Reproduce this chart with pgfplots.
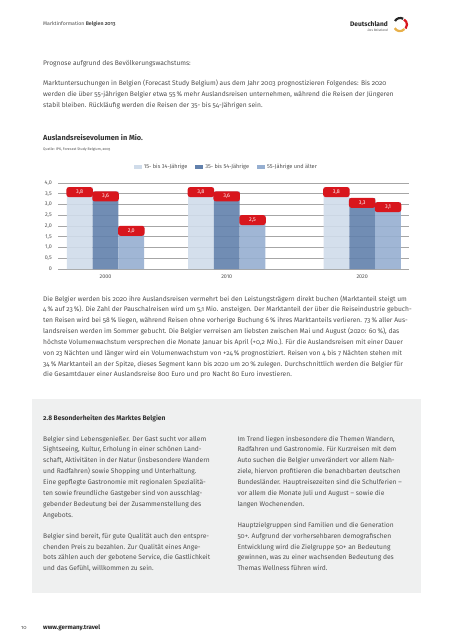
\documentclass[border=0pt]{standalone}
\usepackage{pgfplots}
\pgfplotsset{compat=1.18}
\usepackage{fontspec}
\setmainfont{Fira Sans}[Numbers=OldStyle]
\newfontfamily\lin{Fira Sans}[Numbers=Lining]
\definecolor{txt}{HTML}{505050}
\definecolor{boxgray}{HTML}{EFF0F0}
\definecolor{barA}{HTML}{D0DCEA}
\definecolor{barB}{HTML}{6281AC}
\definecolor{barC}{HTML}{96AFD1}
\definecolor{labred}{HTML}{D8161D}
\definecolor{gridc}{HTML}{A6A6A6}
\definecolor{dgold}{HTML}{E8B04A}
\newcommand{\bodyfont}{\fontsize{6.7}{9}\selectfont}
\newcommand{\tl}[3][43]{\node[anchor=base west, inner sep=0pt, text=txt, font=\bodyfont] at (#1,-#2) {#3};}
\begin{document}
\begin{tikzpicture}[x=1bp,y=1bp]
\path[fill=white,use as bounding box] (0,0) rectangle (453,-640);
% header
\node[anchor=base west, inner sep=0pt, text=txt, font=\fontsize{5.2}{6}\selectfont] at (43,-26) {Marktinformation \textbf{Belgien 2013}};
\node[anchor=base east, inner sep=0pt, text=black!85, font=\fontsize{6.6}{7}\selectfont\bfseries] at (388,-27) {Deutschland};
\node[anchor=base east, inner sep=0pt, text=black!70, font=\fontsize{3.2}{4}\selectfont\itshape] at (388,-32) {Das Reiseland};
\draw[line width=2.2bp, black!85] (395,-21) arc[start angle=150,end angle=60,radius=6];
\draw[line width=2.2bp, labred] (404,-19.5) arc[start angle=60,end angle=-40,radius=6];
\draw[line width=2.2bp, dgold] (404.5,-29) arc[start angle=-40,end angle=-150,radius=6];
% intro text
\tl{65.3}{Prognose aufgrund des Bevölkerungswachstums:}
\tl{85.5}{Marktuntersuchungen in Belgien (Forecast Study Belgium) aus dem Jahr 2003 prognostizieren Folgendes: Bis 2020}
\tl{96.5}{werden die über 55-jährigen Belgier etwa 55\,\% mehr Auslandsreisen unternehmen, während die Reisen der Jüngeren}
\tl{107.5}{stabil bleiben. Rückläufig werden die Reisen der 35- bis 54-Jährigen sein.}
% chart title
\node[anchor=base west, inner sep=0pt, text=black!80, font=\fontsize{7.4}{9}\selectfont\bfseries] at (43,-141) {Auslandsreisevolumen in Mio.};
\node[anchor=base west, inner sep=0pt, text=txt, font=\fontsize{3.6}{4}\selectfont] at (43,-151) {Quelle: IPK, Forecast Study Belgium, 2003};
% chart
\begin{axis}[
  at={(58.3bp,-269bp)}, anchor=south west,
  scale only axis, width=351bp, height=86bp,
  xmin=0, xmax=351, ymin=0, ymax=4,
  ybar, bar width=25.8, bar shift=0pt,
  axis line style={draw=none},
  major tick length=0pt,
  ymajorgrids, grid style={gridc, line width=0.9bp},
  ytick={0,0.5,1,1.5,2,2.5,3,3.5,4},
  yticklabels={0,{0,5},{1,0},{1,5},{2,0},{2,5},{3,0},{3,5},{4,0}},
  xtick={47.2,168.4,303.9},
  xticklabels={2000,2010,2020},
  tick label style={text=txt, font=\lin\fontsize{5.4}{6}\selectfont},
  yticklabel style={xshift=-3bp},
  xticklabel style={yshift=-2bp},
  /pgf/number format/assume math mode=true,
  clip=false,
  nodes near coords={\pgfmathprintnumber[fixed,fixed zerofill,precision=1,use comma,assume math mode=true]{\pgfplotspointmeta}},
  every node near coord/.append style={fill=labred, text=white, fill opacity=1, text opacity=1,
     rounded corners=2.5bp, minimum width=26.5bp, minimum height=10bp, inner sep=0pt,
     yshift=-10bp, font=\lin\fontsize{5.4}{6}\selectfont},
  legend columns=3,
  legend style={draw=none, fill=none, at={(0.479,1.183)}, anchor=center,
     font=\lin\fontsize{5.6}{6}\selectfont, text=txt,
     /tikz/every even column/.append style={column sep=6bp}},
  legend image code/.code={\fill[#1, fill opacity=1] (0bp,-2bp) rectangle (8bp,2.2bp);},
]
\addplot[draw=none, fill=barA, fill opacity=0.9, bar shift=0pt] coordinates {(21.4,3.8) (142.6,3.8) (278.1,3.8)};
\addplot[draw=none, fill=barB, fill opacity=0.9, bar shift=0pt] coordinates {(47.2,3.6) (168.4,3.6) (303.9,3.3)};
\addplot[draw=none, fill=barC, fill opacity=0.9, bar shift=0pt] coordinates {(73.0,2.0) (194.2,2.5) (329.7,3.1)};
\legend{15- bis 34-Jährige, 35- bis 54-Jährige, 55-Jährige und älter}
\end{axis}
% paragraph after chart
\tl{301.2}{Die Belgier werden bis 2020 ihre Auslandsreisen vermehrt bei den Leistungsträgern direkt buchen (Marktanteil steigt um}
\tl{311.9}{4\,\% auf 23\,\%). Die Zahl der Pauschalreisen wird um 5,1 Mio. ansteigen. Der Marktanteil der über die Reiseindustrie gebuch-}
\tl{322.9}{ten Reisen wird bei 58\,\% liegen, während Reisen ohne vorherige Buchung 6\,\% ihres Marktanteils verlieren. 73\,\% aller Aus-}
\tl{333.5}{landsreisen werden im Sommer gebucht. Die Belgier verreisen am liebsten zwischen Mai und August (2020: 60\,\%), das}
\tl{344.5}{höchste Volumenwachstum versprechen die Monate Januar bis April (+0,2 Mio.). Für die Auslandsreisen mit einer Dauer}
\tl{355.2}{von 23 Nächten und länger wird ein Volumenwachstum von +24\,\% prognostiziert. Reisen von 4 bis 7 Nächten stehen mit}
\tl{366.2}{34\,\% Marktanteil an der Spitze, dieses Segment kann bis 2020 um 20\,\% zulegen. Durchschnittlich werden die Belgier für}
\tl{376.9}{die Gesamtdauer einer Auslandsreise 800 Euro und pro Nacht 80 Euro investieren.}
% gray box
\fill[boxgray] (32,-399) rectangle (420.7,-592.7);
\node[anchor=base west, inner sep=0pt, text=black!80, font=\fontsize{6.7}{9}\selectfont\bfseries] at (43,-420) {2.8 Besonderheiten des Marktes Belgien};
\tl{441.2}{Belgier sind Lebensgenießer. Der Gast sucht vor allem}
\tl{451.9}{Sightseeing, Kultur, Erholung in einer schönen Land-}
\tl{462.9}{schaft, Aktivitäten in der Natur (insbesondere Wandern}
\tl{473.5}{und Radfahren) sowie Shopping und Unterhaltung.}
\tl{484.5}{Eine gepflegte Gastronomie mit regionalen Spezialitä-}
\tl{495.2}{ten sowie freundliche Gastgeber sind von ausschlag-}
\tl{506.2}{gebender Bedeutung bei der Zusammenstellung des}
\tl{517.2}{Angebots.}
\tl{538.5}{Belgier sind bereit, für gute Qualität auch den entspre-}
\tl{549.2}{chenden Preis zu bezahlen. Zur Qualität eines Ange-}
\tl{559.9}{bots zählen auch der gebotene Service, die Gastlichkeit}
\tl{570.5}{und das Gefühl, willkommen zu sein.}
\tl[237.3]{441.2}{Im Trend liegen insbesondere die Themen Wandern,}
\tl[237.3]{451.9}{Radfahren und Gastronomie. Für Kurzreisen mit dem}
\tl[237.3]{462.9}{Auto suchen die Belgier unverändert vor allem Nah-}
\tl[237.3]{473.5}{ziele, hiervon profitieren die benachbarten deutschen}
\tl[237.3]{484.5}{Bundesländer. Hauptreisezeiten sind die Schulferien –}
\tl[237.3]{495.2}{vor allem die Monate Juli und August – sowie die}
\tl[237.3]{506.2}{langen Wochenenden.}
\tl[237.3]{527.5}{Hauptzielgruppen sind Familien und die Generation}
\tl[237.3]{538.5}{50+. Aufgrund der vorhersehbaren demografischen}
\tl[237.3]{549.2}{Entwicklung wird die Zielgruppe 50+ an Bedeutung}
\tl[237.3]{559.9}{gewinnen, was zu einer wachsenden Bedeutung des}
\tl[237.3]{570.5}{Themas Wellness führen wird.}
% footer
\node[anchor=base west, inner sep=0pt, text=txt, font=\fontsize{5.4}{6}\selectfont] at (21,-629) {10};
\node[anchor=base west, inner sep=0pt, text=black!85, font=\fontsize{6.2}{7}\selectfont\bfseries] at (43,-629) {www.germany.travel};
\end{tikzpicture}
\end{document}
